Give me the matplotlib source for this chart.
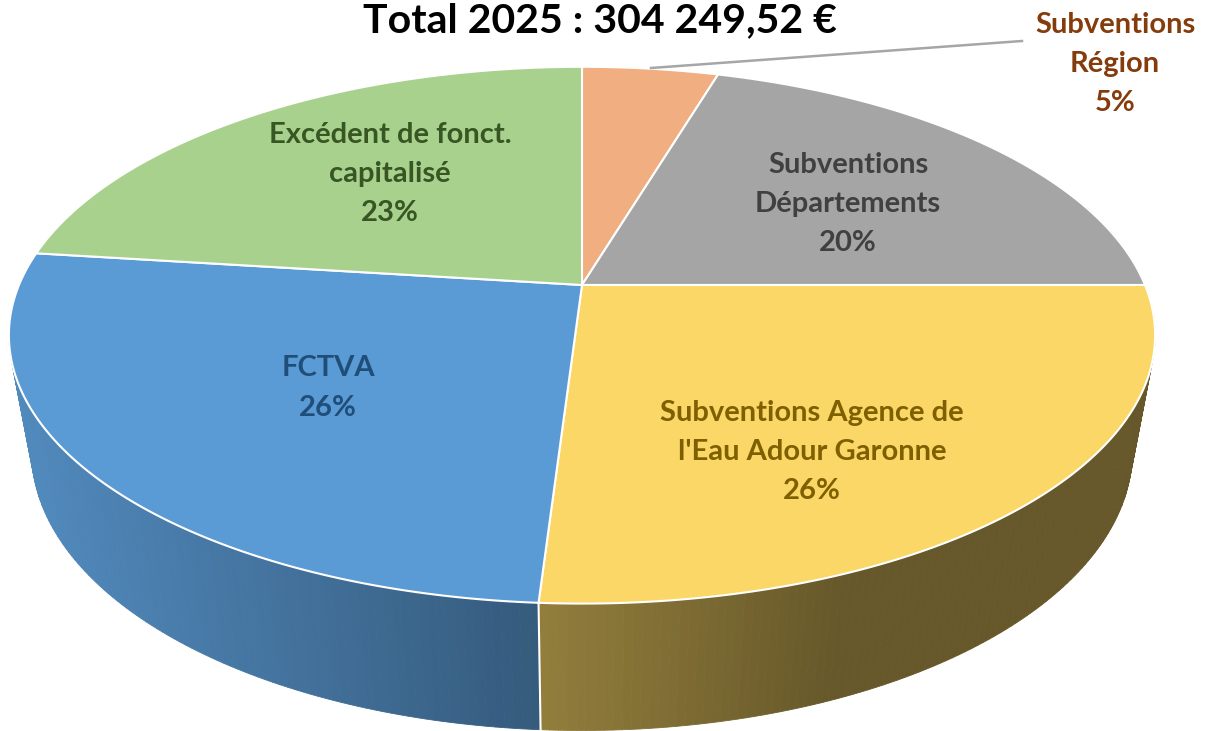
import numpy as np
import matplotlib
matplotlib.use("Agg")
import matplotlib.pyplot as plt
from matplotlib.patches import Polygon
from matplotlib.colors import to_rgb

# data, clockwise from 12 o'clock
labels = ["Subventions\nRégion", "Subventions\nDépartements",
          "Subventions Agence de\nl'Eau Adour Garonne", "FCTVA",
          "Excédent de fonct.\ncapitalisé"]
shares = [4.6, 20.4, 26.0, 26.0, 23.0]
title = "Total 2025 : 304 249,52 €"

top_colors = ["#f0ae81", "#a5a5a5", "#fad766", "#5b9bd5", "#a9d18e"]
text_colors = ["#843c0c", "#404040", "#7f6000", "#1f4e79", "#375623"]
# label centres (pixels)
label_xy = [(1115, 64), (848, 204), (812, 452), (328, 388), (390, 174)]

W, H = 1205, 731
fig = plt.figure(figsize=(W / 100, H / 100), dpi=100)
ax = fig.add_axes([0, 0, 1, 1])
ax.set_xlim(0, W)
ax.set_ylim(H, 0)
ax.axis("off")

# perspective disc
cx, cy = 582, 285
R, C, k, depth, m = 563, 259, 0.187, 121, 0.04


def proj(th, d=0.0, r=1.0):
    x = r * np.sin(th)
    y = r * np.cos(th)
    w = 1 + k * y + m * d
    return cx + R * x / w, cy - (C * y - depth * d) / w


frac = np.array(shares) / sum(shares)
edges = np.concatenate([[0], np.cumsum(frac)]) * 2 * np.pi


def shade(col, x):
    f = np.clip(0.88 - 0.00058 * (x - 30), 0.41, 0.9)
    return tuple(c * f for c in to_rgb(col))


# side wall as thin strips, back to front
strips = []
for i in range(len(shares)):
    th = np.linspace(edges[i], edges[i + 1], 120)
    for a, b in zip(th[:-1], th[1:]):
        if np.cos((a + b) / 2) > 0.35:
            continue
        xa, ya = proj(a)
        xb, yb = proj(b)
        xc, yc = proj(b, 1)
        xd, yd = proj(a, 1)
        col = shade(top_colors[i], (xa + xb) / 2)
        strips.append((-np.cos((a + b) / 2),
                       [(xa, ya), (xb, yb), (xc, yc), (xd, yd)], col))
strips.sort(key=lambda s: s[0])
for _, pts, col in strips:
    ax.add_patch(Polygon(pts, closed=True, facecolor=col, edgecolor=col,
                         lw=0.6, zorder=1))

# slice seams on the side
for e in edges[:-1]:
    if np.cos(e) < 0:
        x0, y0 = proj(e)
        x1, y1 = proj(e, 1)
        ax.plot([x0, x1], [y0, y1], color="white", lw=1.5, zorder=2)

# top face
for i in range(len(shares)):
    th = np.linspace(edges[i], edges[i + 1], 200)
    xs, ys = proj(th)
    pts = [(cx, cy)] + list(zip(xs, ys))
    ax.add_patch(Polygon(pts, closed=True, facecolor=top_colors[i],
                         edgecolor="white", lw=1.5, zorder=3))

# labels
font = dict(family="Lato", weight="bold")
for i, lab in enumerate(labels):
    lines = lab.split("\n") + [f"{round(shares[i])}%"]
    x, y = label_xy[i]
    n = len(lines)
    for j, ln in enumerate(lines):
        ax.text(x, y + (j - (n - 1) / 2) * 39, ln, ha="center", va="center",
                fontsize=21, color=text_colors[i], zorder=5, **font)

# leader line for the small slice
ax.plot([651, 1022], [68, 41], color="#a6a6a6", lw=1.8, zorder=4)

ax.text(600, 32, title, ha="center", va="baseline", fontsize=29.5,
        color="black", zorder=5, **font)

fig.savefig("out.png", dpi=100)
